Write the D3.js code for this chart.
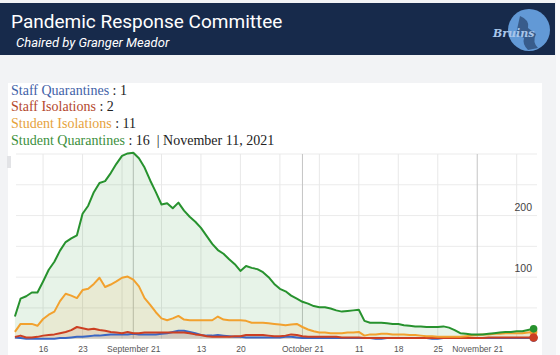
<!DOCTYPE html>
<html><head><meta charset="utf-8">
<script src="https://cdn.jsdelivr.net/npm/d3@7"></script>
<style>html,body{margin:0;padding:0;background:#f2f3f5;overflow:hidden}svg{display:block}</style>
</head><body>
<svg id="c" width="560" height="355"></svg>
<script>
const startDate = "2021-08-11";
const staffQuarantines = [2,1,0,0,0,0,0,0,1,1,2,3,3,4,5,5,6,7,7,7,7,8,7,7,7,7,8,9,11,13,13,11,9,6,5,5,6,5,4,3,3,2,2,2,2,2,2,2,3,3,2,1,1,1,1,1,1,1,1,1,1,1,1,1,0,0,1,1,1,1,1,1,1,1,0,0,1,1,1,1,1,1,1,1,1,1,1,1,1,1,1,1,1];
const staffIsolations = [3,5,2,2,3,5,6,7,9,11,14,19,17,15,16,14,13,11,10,9,11,9,9,10,10,10,10,10,10,10,10,9,7,6,4,3,3,3,3,4,4,6,6,6,6,5,4,4,5,7,6,4,3,3,3,3,3,3,2,2,2,2,1,1,1,1,1,1,1,1,1,1,1,1,1,1,1,1,1,1,1,1,1,1,2,2,2,2,2,2,2,2,2];
const studentIsolations = [11,24,24,24,21,32,39,44,61,73,70,66,79,81,89,99,84,88,93,99,101,96,85,66,55,43,33,30,33,37,31,30,30,30,30,30,36,31,30,30,30,29,26,26,26,25,24,23,22,23,24,19,15,12,10,10,9,9,9,10,10,11,5,7,7,8,8,7,7,7,6,6,5,4,4,3,3,3,3,3,4,5,6,7,7,8,8,9,9,9,9,10,11];
const studentQuarantines = [36,65,69,75,75,93,112,125,143,157,163,168,203,216,238,253,256,269,284,297,301,302,293,278,257,238,218,220,212,221,208,198,190,180,167,154,144,138,129,121,110,118,115,113,108,100,89,81,77,70,65,60,57,53,51,51,49,46,44,45,46,47,29,26,26,26,25,24,24,22,21,20,20,19,19,19,20,18,14,9,8,7,7,7,8,9,10,11,11,12,12,14,16];
const seriesNames = ["Staff Quarantines","Staff Isolations","Student Isolations","Student Quarantines"];
const seriesColors = ["#3a66c4","#cc3f22","#f2a12e","#27922e"];
const legendColors = ["#3f62a8","#b4472c","#e6a23c","#3c8f3c"];
const latestValues = [1,2,11,16];
const latestLabel = "November 11, 2021";
const xTickDates = ["2021-08-16","2021-08-23","2021-09-01","2021-09-13","2021-09-20","2021-10-01","2021-10-11","2021-10-18","2021-10-25","2021-11-01"];
const xTickLabels = ["16","23","September 21","13","20","October 21","11","18","25","November 21"];
const weekGridDates = ["2021-08-16","2021-08-23","2021-08-30","2021-09-06","2021-09-13","2021-09-20","2021-09-27","2021-10-04","2021-10-11","2021-10-18","2021-10-25","2021-11-08"];
const monthGridDates = ["2021-09-01","2021-10-01","2021-11-01"];
const yGridValues = [50,100,150,200,250,300];
const yLabelValues = [100,200];

const parse = d3.utcParse("%Y-%m-%d");
const svg = d3.select("#c");
const allSeries = [staffQuarantines, staffIsolations, studentIsolations, studentQuarantines];
const t0 = parse(startDate);
const dateAt = i => d3.utcDay.offset(t0, i);

// header
svg.append("rect").attr("x",0).attr("y",3).attr("width",555).attr("height",52).attr("fill","#172a4b");
svg.append("text").attr("x",11).attr("y",27.5).attr("fill","#fff")
  .style("font-family","Roboto, 'Noto Sans', sans-serif").style("font-size","19px").text("Pandemic Response Committee");
svg.append("text").attr("x",16).attr("y",47).attr("fill","#fff")
  .style("font-family","Roboto, 'Noto Sans', sans-serif").style("font-size","13px").style("font-style","italic").text("Chaired by Granger Meador");
// logo approximation
const logo = svg.append("g");
logo.append("circle").attr("cx",529).attr("cy",30).attr("r",21).attr("fill","#6299d6");
logo.append("path").attr("d","M520,16 Q530,20 528,28 L536,34 Q532,42 538,48 L528,50 Q522,44 524,38 L516,34 Z").attr("fill","#1d3358").attr("opacity",0.6);
logo.append("text").attr("x",493).attr("y",37).attr("fill","#a9c6ea")
  .style("font-family","'DejaVu Serif', serif").style("font-size","11px").style("font-style","italic").style("font-weight","bold").text("Bruins");

// white panel
svg.append("rect").attr("x",8).attr("y",83).attr("width",534).attr("height",280).attr("fill","#fff");
svg.append("rect").attr("x",556).attr("y",0).attr("width",4).attr("height",355).attr("fill","#fbfbfc");

// legend
const leg = svg.append("g").style("font-family","'Liberation Serif', 'Times New Roman', serif").style("font-size","14px");
seriesNames.forEach((n,i)=>{
  const t = leg.append("text").attr("x",11).attr("y",94.5 + i*16.7);
  t.append("tspan").attr("fill",legendColors[i]).text(n);
  t.append("tspan").attr("fill","#222").text(" : " + latestValues[i]);
  if (i===3) t.append("tspan").attr("fill","#222").text("\u00a0\u00a0| " + latestLabel);
});

// scales
const x = d3.scaleUtc().domain([t0, dateAt(92)]).range([14.9, 533.6]);
const y = d3.scaleLinear().domain([0,300]).range([338.7,154]);

// scroll artifact
svg.append("rect").attr("x",7).attr("y",156).attr("width",4).attr("height",12).attr("fill","#e2e3e6");

// grid
const grid = svg.append("g");
grid.selectAll("line.h").data(yGridValues).join("line")
  .attr("x1",16).attr("x2",537).attr("y1",d=>y(d)).attr("y2",d=>y(d))
  .attr("stroke","#ebebeb").attr("stroke-width",1);
grid.selectAll("line.w").data(weekGridDates.map(parse)).join("line")
  .attr("x1",d=>x(d)).attr("x2",d=>x(d)).attr("y1",154).attr("y2",y(0))
  .attr("stroke","#e8e8e8").attr("stroke-width",1);
grid.selectAll("line.m").data(monthGridDates.map(parse)).join("line")
  .attr("x1",d=>x(d)).attr("x2",d=>x(d)).attr("y1",154).attr("y2",y(0))
  .attr("stroke","#c4c4c4").attr("stroke-width",1);

// areas and lines
const area = d3.area().x((d,i)=>x(dateAt(i))).y0(y(0)).y1(d=>y(d));
const line = d3.line().x((d,i)=>x(dateAt(i))).y(d=>y(d));
const order = [3,2,1,0];
order.forEach(k=>{
  svg.append("path").datum(allSeries[k]).attr("d",area).attr("fill",seriesColors[k]).attr("fill-opacity",0.11);
});
order.slice().reverse().forEach(k=>{
  svg.append("path").datum(allSeries[k]).attr("d",line).attr("fill","none")
    .attr("stroke",seriesColors[k]).attr("stroke-width",2).attr("stroke-linejoin","round");
});
// end dots
[0,2,3,1].forEach(k=>{
  const s = allSeries[k];
  svg.append("circle").attr("cx",x(dateAt(s.length-1))).attr("cy",y(s[s.length-1])).attr("r",k===1?4.3:3.8)
    .attr("fill",seriesColors[k]);
});

// y labels
svg.selectAll("text.yl").data(yLabelValues).join("text")
  .attr("x",532).attr("y",d=>y(d)-5).attr("text-anchor","end").attr("fill","#444")
  .style("font-family","Arial, 'Liberation Sans', sans-serif").style("font-size","10.5px").text(d=>d);

// x axis
const xAxis = d3.axisBottom(x).tickValues(xTickDates.map(parse))
  .tickFormat((d,i)=>xTickLabels[i]).tickSize(0).tickPadding(0);
const ax = svg.append("g").attr("transform","translate(0,345.5)").call(xAxis);
ax.select(".domain").remove();
ax.selectAll("text").attr("fill","#555").attr("dy","0.71em")
  .style("font-family","Arial, 'Liberation Sans', sans-serif").style("font-size","8.5px");
</script>
</body></html>
